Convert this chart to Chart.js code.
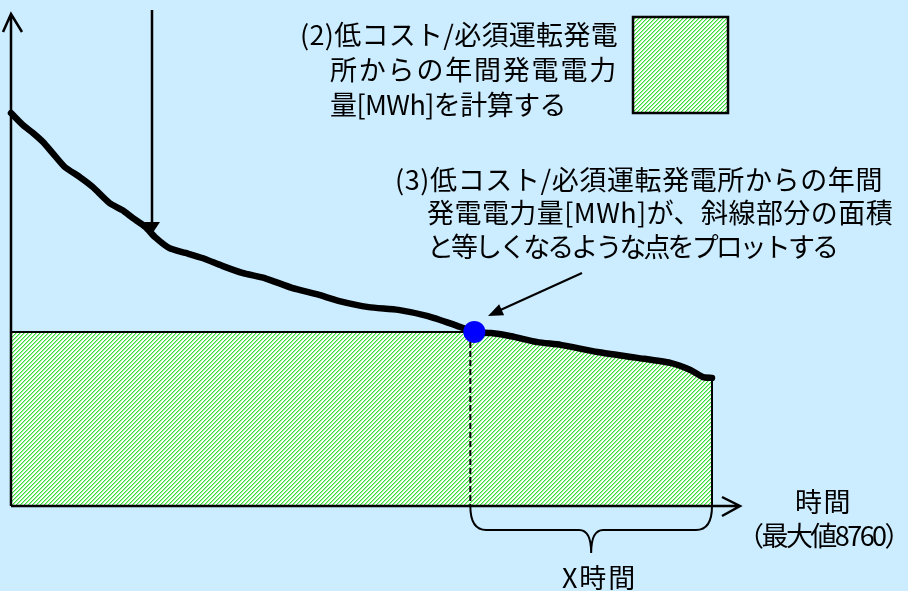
<!DOCTYPE html>
<html lang="ja">
<head>
<meta charset="utf-8">
<script src="https://cdn.jsdelivr.net/npm/chart.js@4.4.1/dist/chart.umd.min.js"></script>
<style>
  html, body { margin: 0; padding: 0; background: #CCECFF; }
  #wrap { width: 908px; height: 591px; }
</style>
</head>
<body>
<div id="wrap"><canvas id="myChart" width="908" height="591"></canvas></div>
<script>
// load duration curve: hours (sorted by load) and load as % of peak
var hours = [0, 150, 275, 400, 520, 670, 860, 1020, 1230, 1390,
             1520, 1680, 1800, 1980, 2180, 2390, 2640, 2890, 3170, 3510,
             3850, 4090, 4470, 4840, 5210, 5540, 5790, 6000, 6250, 6580,
             6870, 7330, 7830, 8240, 8490, 8650, 8760];
var load = [100, 96.9, 94.9, 92.6, 89.8, 86.3, 83.7, 81.2, 77.1, 75.3,
            73.3, 71.0, 68.4, 65.6, 64.4, 63.1, 61.1, 59.3, 58.0, 55.5,
            53.7, 52.2, 50.6, 49.9, 48.3, 46.1, 44.3, 44.0, 43.2, 41.7,
            41.0, 39.2, 37.7, 36.4, 34.6, 32.8, 32.6];
var maxHours = 8760;
var levelLoad = 44.3;  // output level of the low-cost / must-run plant
var xHours = 5790;     // point (3) where the curve meets that level

var curveData = hours.map(function (h, i) { return { x: h, y: load[i] }; });

// hatched area = rectangle up to the level, then under the curve
var hatchData = [{ x: 0, y: levelLoad }, { x: xHours, y: levelLoad }];
for (var i = 0; i < hours.length; i++) {
  if (hours[i] > xHours) hatchData.push({ x: hours[i], y: load[i] });
}

var canvas = document.getElementById('myChart');
var ctx = canvas.getContext('2d');

function makeHatch() {
  var c = document.createElement('canvas');
  c.width = 4; c.height = 4;
  var g = c.getContext('2d');
  g.fillStyle = '#ffffff';
  g.fillRect(0, 0, 4, 4);
  for (var y = 0; y < 4; y++) {
    for (var x = 0; x < 4; x++) {
      var k = (x + y) % 4;
      if (k == 0) { g.fillStyle = '#33e033'; g.fillRect(x, y, 1, 1); }
      if (k == 1) { g.fillStyle = '#a6f0a6'; g.fillRect(x, y, 1, 1); }
    }
  }
  return ctx.createPattern(c, 'repeat');
}
var hatch = makeHatch();

function textLine(c, s, left, cy, width) {
  c.letterSpacing = '0px';
  var w = c.measureText(s).width;
  var sp = (width - w) / s.length;
  c.letterSpacing = sp.toFixed(2) + 'px';
  c.fillText(s, left, cy);
  c.letterSpacing = '0px';
}

function arrowHead(c, tx, ty, fx, fy, len, half) {
  var a = Math.atan2(ty - fy, tx - fx);
  c.beginPath();
  c.moveTo(tx, ty);
  c.lineTo(tx - len * Math.cos(a) + half * Math.sin(a), ty - len * Math.sin(a) - half * Math.cos(a));
  c.lineTo(tx - len * Math.cos(a) - half * Math.sin(a), ty - len * Math.sin(a) + half * Math.cos(a));
  c.closePath();
  c.fill();
}

var overlay = {
  id: 'overlay',
  afterDatasetsDraw: function (chart) {
    var c = chart.ctx;
    var xs = chart.scales.x, ys = chart.scales.y;
    var x0 = xs.getPixelForValue(0), y0 = ys.getPixelForValue(0);
    var xEnd = xs.getPixelForValue(maxHours);
    var xDot = xs.getPixelForValue(xHours);
    var yLev = ys.getPixelForValue(levelLoad);
    c.save();
    c.strokeStyle = '#000';
    c.fillStyle = '#000';
    c.lineCap = 'butt';

    // right edge of hatched area
    c.lineWidth = 2;
    c.beginPath();
    c.moveTo(xEnd, ys.getPixelForValue(load[load.length - 1]));
    c.lineTo(xEnd, y0);
    c.stroke();

    // dashed line down from the point
    c.lineWidth = 2;
    c.setLineDash([6, 3]);
    c.beginPath();
    c.moveTo(xDot - 4, yLev + 10);
    c.lineTo(xDot - 4, y0);
    c.stroke();
    c.setLineDash([]);

    // axes with open arrow heads
    c.lineWidth = 2.5;
    c.beginPath();
    c.moveTo(x0, y0);
    c.lineTo(x0, 14);
    c.moveTo(x0 - 8, 32);
    c.lineTo(x0, 14);
    c.lineTo(x0 + 11, 32);
    c.moveTo(x0, y0);
    c.lineTo(740, y0);
    c.moveTo(722, y0 - 9);
    c.lineTo(740, y0);
    c.lineTo(722, y0 + 10);
    c.stroke();

    // brace under X hours
    var xa = xDot - 4, xb = xEnd, xm = (xa + xb) / 2, yb = y0 + 24, tip = y0 + 47;
    c.lineWidth = 2;
    c.beginPath();
    c.moveTo(xa, y0);
    c.quadraticCurveTo(xa, yb, xa + 16, yb);
    c.lineTo(xm - 12, yb);
    c.quadraticCurveTo(xm, yb, xm, tip);
    c.quadraticCurveTo(xm, yb, xm + 12, yb);
    c.lineTo(xb - 16, yb);
    c.quadraticCurveTo(xb, yb, xb, y0);
    c.stroke();

    // pointer arrows
    c.lineWidth = 2.5;
    c.beginPath();
    c.moveTo(152, 10);
    c.lineTo(152, 224);
    c.stroke();
    arrowHead(c, 152, 234, 152, 10, 12, 8);
    c.lineWidth = 2;
    c.beginPath();
    c.moveTo(582, 273);
    c.lineTo(496, 312);
    c.stroke();
    arrowHead(c, 488, 316, 582, 273, 15, 6);

    // legend box
    c.fillStyle = hatch;
    c.fillRect(633, 17, 95, 96);
    c.lineWidth = 2.5;
    c.strokeRect(633, 17, 95, 96);

    // texts
    c.fillStyle = '#000';
    c.font = "27px 'Noto Sans CJK JP'";
    c.textBaseline = 'middle';
    c.textAlign = 'left';
    textLine(c, '(2)低コスト/必須運転発電', 300, 35, 318);
    textLine(c, '所からの年間発電電力', 330, 70, 288);
    textLine(c, '量[MWh]を計算する', 330, 105, 236);
    textLine(c, '(3)低コスト/必須運転発電所からの年間', 395, 180, 488);
    textLine(c, '発電電力量[MWh]が、斜線部分の面積', 427, 213, 466);
    textLine(c, 'と等しくなるような点をプロットする', 427, 247, 409);
    textLine(c, '時間', 795, 502, 57);
    textLine(c, '（最大値8760）', 737, 536, 172);
    textLine(c, 'X時間', 562, 578, 75);
    c.restore();
  }
};

const myChart = new Chart(ctx, {
  type: 'line',
  data: {
    datasets: [{
      label: 'point',
      data: [{ x: xHours, y: levelLoad }],
      showLine: false,
      pointRadius: 11,
      pointBackgroundColor: '#0000FF',
      pointBorderWidth: 0,
      clip: false,
      order: 0
    }, {
      label: 'load',
      data: curveData,
      borderColor: '#000',
      borderWidth: 6.5,
      borderJoinStyle: 'round',
      borderCapStyle: 'round',
      pointRadius: 0,
      tension: 0.2,
      fill: false,
      clip: false,
      order: 1
    }, {
      label: 'energy',
      data: hatchData,
      borderColor: '#000',
      borderWidth: 2,
      pointRadius: 0,
      backgroundColor: hatch,
      fill: 'origin',
      clip: false,
      order: 2
    }]
  },
  options: {
    responsive: false,
    animation: false,
    devicePixelRatio: 1,
    layout: { padding: { left: 8, right: 196, top: 113, bottom: 85 } },
    scales: {
      x: { type: 'linear', min: 0, max: maxHours, display: false },
      y: { type: 'linear', min: 0, max: 100, display: false }
    },
    plugins: {
      legend: { display: false },
      tooltip: { enabled: false }
    }
  },
  plugins: [overlay]
});
</script>
</body>
</html>
